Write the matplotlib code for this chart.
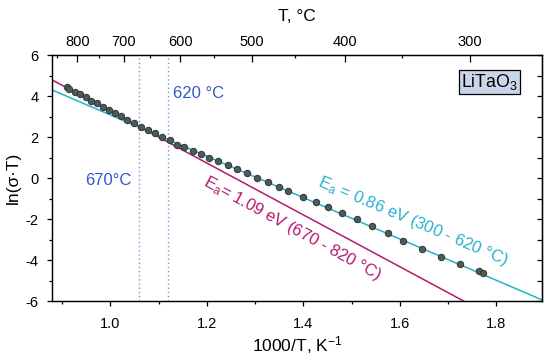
import matplotlib
matplotlib.use("Agg")
import matplotlib.pyplot as plt
import numpy as np
from matplotlib.ticker import MultipleLocator, FixedLocator

plt.rcParams['font.family'] = ['Liberation Sans', 'DejaVu Sans']
plt.rcParams['axes.unicode_minus'] = False
plt.rcParams['mathtext.fontset'] = 'custom'
plt.rcParams['mathtext.rm'] = 'Liberation Sans'
plt.rcParams['mathtext.it'] = 'Liberation Sans:italic'
plt.rcParams['mathtext.default'] = 'regular'

# ---- data ----
inv_T = [0.9104, 0.9151, 0.9275, 0.9379, 0.9497, 0.9607, 0.9725, 0.9841, 0.9965,
         1.0089, 1.0213, 1.0346, 1.0482, 1.0636, 1.0781, 1.0925, 1.1070, 1.1228,
         1.1381, 1.1532, 1.1712, 1.1890, 1.2056, 1.2242, 1.2436, 1.2636, 1.2836,
         1.3043, 1.3271, 1.3499, 1.3692, 1.4002, 1.4259, 1.4520, 1.4810, 1.5108,
         1.5431, 1.5750, 1.6072, 1.6460, 1.6847, 1.7246, 1.7640, 1.7716]
ln_sigma_T = [4.424, 4.356, 4.210, 4.083, 3.937, 3.771, 3.644, 3.478, 3.317,
              3.185, 3.024, 2.829, 2.668, 2.502, 2.327, 2.180, 2.015, 1.854,
              1.610, 1.498, 1.332, 1.156, 0.976, 0.815, 0.634, 0.424, 0.229,
              0.000, -0.210, -0.439, -0.634, -0.912, -1.185, -1.429, -1.693, -2.015,
              -2.327, -2.698, -3.059, -3.463, -3.839, -4.195, -4.537, -4.649]

# Arrhenius fit lines (end points)
fit_high_x = [0.88, 1.732]
fit_high_y = [4.78, -6.0]
fit_low_x = [0.88, 1.895]
fit_low_y = [4.29, -5.95]

# transition temperatures (°C)
trans_T = [670, 620]
trans_labels = ['670°C', '620 °C']

# top axis temperatures (°C)
top_major = [800, 700, 600, 500, 400, 300]
top_minor = [850, 750, 650, 550, 450, 350]

magenta = '#B5196F'
cyan = '#27B2CC'
blue = '#3355CC'

fig = plt.figure(figsize=(5.5, 3.61), dpi=100)
ax = fig.add_axes([0.0951, 0.1662, 0.8909, 0.6814])

xlim = (0.88, 1.895)
ylim = (-6, 6)

ax.plot(fit_high_x, fit_high_y, color=magenta, lw=1.1, zorder=2)
ax.plot(fit_low_x, fit_low_y, color=cyan, lw=1.1, zorder=2)

for T in trans_T:
    ax.axvline(1000.0 / (T + 273.15), color='#8C8CE0', lw=1.0, ls=(0, (1, 2)), zorder=1)

ax.plot(inv_T, ln_sigma_T, 'o', ms=4.6, mfc='#4E5C58', mec='#2E3532', mew=0.7, zorder=3)

ax.set_xlim(*xlim)
ax.set_ylim(*ylim)

ax.xaxis.set_major_locator(FixedLocator([1.0, 1.2, 1.4, 1.6, 1.8]))
ax.xaxis.set_minor_locator(FixedLocator([0.9, 1.1, 1.3, 1.5, 1.7, 1.9]))
ax.yaxis.set_major_locator(MultipleLocator(2))
ax.yaxis.set_minor_locator(MultipleLocator(1))
ax.set_xticklabels(['1.0', '1.2', '1.4', '1.6', '1.8'])
ax.tick_params(axis='both', which='major', direction='out', length=3.8, width=0.9,
               labelsize=10.5)
ax.tick_params(axis='both', which='minor', direction='out', length=2.2, width=0.9)
ax.tick_params(axis='x', which='major', pad=8)
ax.tick_params(axis='y', which='major', pad=6)

for s in ax.spines.values():
    s.set_linewidth(0.9)

ax.set_xlabel('1000/T, K$^{-1}$', fontsize=12.5, labelpad=2)
ax.set_ylabel('ln(σ·T)', fontsize=12.5)
ax.yaxis.set_label_coords(-0.064, 0.5)

# right axis ticks (inward, no labels)
ry = ax.secondary_yaxis('right')
ry.yaxis.set_major_locator(MultipleLocator(2))
ry.yaxis.set_minor_locator(MultipleLocator(1))
ry.tick_params(which='major', direction='in', length=3.5, width=0.9, labelright=False)
ry.tick_params(which='minor', direction='in', length=3.5, width=0.9)

# top temperature axis
ax2 = ax.twiny()
ax2.set_xlim(*xlim)
ax2.set_xticks([1000.0 / (t + 273.15) for t in top_major])
ax2.set_xticklabels([str(t) for t in top_major])
ax2.set_xticks([1000.0 / (t + 273.15) for t in top_minor], minor=True)
ax2.tick_params(which='major', direction='in', length=4.8, width=0.9, labelsize=10.5, pad=4.2)
ax2.tick_params(which='minor', direction='in', length=2.4, width=0.9)
ax2.set_xlabel('T, °C', fontsize=12.5, labelpad=10)
for s in ax2.spines.values():
    s.set_linewidth(0.9)

# annotations
x670 = 1000.0 / (trans_T[0] + 273.15)
x620 = 1000.0 / (trans_T[1] + 273.15)
ax.text(x670 - 0.017, -0.1, trans_labels[0], color=blue, fontsize=12, ha='right', va='center')
ax.text(x620 + 0.011, 4.1, trans_labels[1], color=blue, fontsize=12, ha='left', va='center')

ax.text(1.786, 4.68, 'LiTaO$_3$', fontsize=12.8, ha='center', va='center',
        bbox=dict(boxstyle='square,pad=0.12', fc='#C9D5E8', ec='black', lw=0.9))

ax.text(1.378, -2.45, 'E$_a$= 1.09 eV (670 - 820 °C)', color=magenta, fontsize=12,
        rotation=-28.6, rotation_mode='anchor', ha='center', va='center')
ax.text(1.627, -2.12, 'E$_a$ = 0.86 eV (300 - 620 °C)', color=cyan, fontsize=12,
        rotation=-23.0, rotation_mode='anchor', ha='center', va='center')

fig.savefig('out.png', dpi=100)
